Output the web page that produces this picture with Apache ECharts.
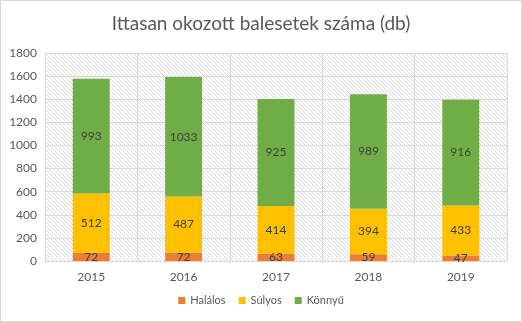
<!DOCTYPE html>
<html>
<head>
<meta charset="utf-8">
<script src="https://cdn.jsdelivr.net/npm/echarts@6/dist/echarts.min.js"></script>
<style>
  html, body { margin: 0; padding: 0; background: #fff; }
  #chart { width: 520px; height: 320px; border: 1px solid #d9d9d9; }
</style>
</head>
<body>
<div id="chart"></div>
<script>
// Évek és a három súlyossági kategória
const years = ['2015', '2016', '2017', '2018', '2019'];
const halalos = [72, 72, 63, 59, 47];
const sulyos = [512, 487, 414, 394, 433];
const konnyu = [993, 1033, 925, 989, 916];
const yTicks = { min: 0, max: 1800, interval: 200 };

// Diagonal hatch used behind the plot area
function hatchPattern() {
  const c = document.createElement('canvas');
  c.width = 4; c.height = 4;
  const ctx = c.getContext('2d');
  ctx.fillStyle = '#ffffff';
  ctx.fillRect(0, 0, 4, 4);
  ctx.fillStyle = '#d9d9d9';
  for (let i = 0; i < 4; i++) ctx.fillRect(i, i, 1, 1);
  return c;
}

const font = 'Lato, "Open Sans", sans-serif';
const labelStyle = { show: true, position: 'inside', color: '#404040', fontSize: 12, fontFamily: font };

const chart = echarts.init(document.getElementById('chart'));
chart.setOption({
  animation: false,
  title: {
    text: 'Ittasan okozott balesetek száma (db)',
    left: 'center', top: 8,
    textStyle: { color: '#595959', fontSize: 19, fontWeight: 'normal', fontFamily: font }
  },
  legend: {
    bottom: 10, left: 'center',
    itemWidth: 7, itemHeight: 7, itemGap: 13,
    icon: 'rect',
    textStyle: { color: '#595959', fontSize: 11, fontFamily: font },
    data: ['Halálos', 'Súlyos', 'Könnyű']
  },
  grid: {
    left: 44, right: 14, top: 52, bottom: 60,
    show: true, borderWidth: 0,
    backgroundColor: { image: hatchPattern(), repeat: 'repeat' }
  },
  xAxis: {
    type: 'category', data: years,
    axisLine: { show: true, lineStyle: { color: '#d9d9d9' } },
    axisTick: { show: false },
    splitLine: { show: true, lineStyle: { color: '#d9d9d9', width: 1 } },
    axisLabel: { color: '#595959', fontSize: 12, fontFamily: font, margin: 10 }
  },
  yAxis: {
    type: 'value', min: yTicks.min, max: yTicks.max, interval: yTicks.interval,
    axisLine: { show: false }, axisTick: { show: false },
    splitLine: { lineStyle: { color: '#d9d9d9', width: 1 } },
    axisLabel: { color: '#595959', fontSize: 12, fontFamily: font, margin: 8,
      formatter: v => String(v) }
  },
  series: [
    { name: 'Halálos', type: 'bar', stack: 'total', data: halalos, barWidth: '40%',
      itemStyle: { color: '#ED7D31' }, label: labelStyle },
    { name: 'Súlyos', type: 'bar', stack: 'total', data: sulyos,
      itemStyle: { color: '#FFC000' }, label: labelStyle },
    { name: 'Könnyű', type: 'bar', stack: 'total', data: konnyu,
      itemStyle: { color: '#70AD47' }, label: labelStyle }
  ]
});
</script>
</body>
</html>
